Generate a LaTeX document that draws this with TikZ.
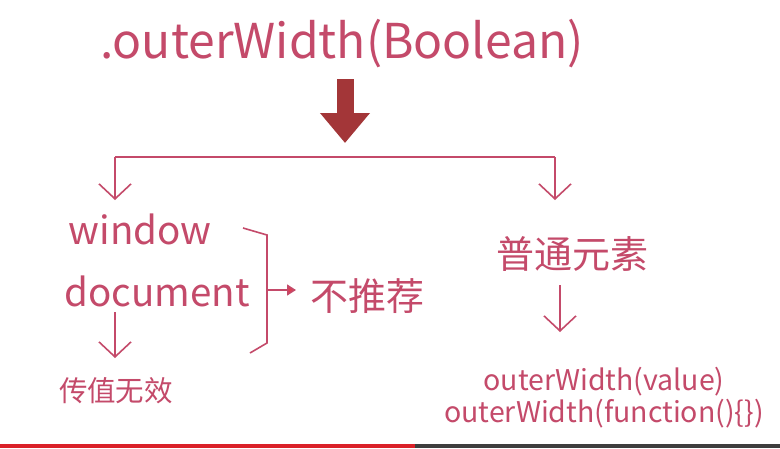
\documentclass[tikz,border=0pt]{standalone}
\usepackage{fontspec}
\setmainfont{Noto Sans CJK SC}
\usetikzlibrary{arrows,arrows.meta}
\definecolor{rose}{RGB}{196,74,106}
\definecolor{wine}{RGB}{163,54,56}
\definecolor{tipred}{RGB}{222,62,80}
\definecolor{barred}{RGB}{218,32,40}
\definecolor{bargray}{RGB}{62,62,62}

\begin{document}
\begin{tikzpicture}[x=1pt,y=-1pt,text=rose,
  thin arrow/.style={draw=rose,line width=1.6pt,-{Straight Barb[length=15pt,width=32pt]}},
  big/.style={font=\fontsize{48}{48}\selectfont},
  mid/.style={font=\fontsize{38.5}{38.5}\selectfont},
  small/.style={font=\fontsize{28.5}{28.5}\selectfont}]

  \useasboundingbox[fill=white] (0,0) rectangle (780,448);

  \node[big] (title) at (342,44) {.outerWidth(Boolean)};
  \coordinate (shaft) at (345,79);
  \coordinate (split) at (345,157);
  \coordinate (head) at (345,143);
  \draw[wine,line width=17pt,-{Triangle[length=30pt,width=48pt]}] (shaft) -- (head);

  \coordinate (lsplit) at (115,157);
  \coordinate (rsplit) at (555,157);
  \node[mid] (win) at (140,229) {window};
  \node[mid] (doc) at (157,291) {document};
  \node[small] (void) at (116,391) {传值无效};
  \node[font=\fontsize{38}{38}\selectfont] (rec) at (367,296) {不推荐};
  \node[font=\fontsize{38}{38}\selectfont] (elem) at (572,254) {普通元素};
  \node[small] (val) at (604,382) {outerWidth(value)};
  \node[small] (fun) at (604,414) {outerWidth(function()\{\})};

  \draw[rose,line width=1.6pt] (lsplit) -- (rsplit);
  \draw[thin arrow] (lsplit) -- (115,200);
  \draw[thin arrow] (rsplit) -- (555,200);
  \draw[thin arrow] (115,312) -- (115,358);
  \draw[thin arrow] (560,285) -- (560,332);

  % bracket
  \draw[rose,line width=1.6pt] (243,228) -- (267,235) -- (267,343) -- (250,353);
  \coordinate (brk) at (267,290);
  \draw[rose,line width=1.6pt,-{Triangle[length=9pt,width=11pt,fill=tipred]}] (brk) -- (296,290);

  \fill[barred] (0,444) rectangle (415,448);
  \fill[bargray] (415,444) rectangle (780,448);
\end{tikzpicture}
\end{document}
